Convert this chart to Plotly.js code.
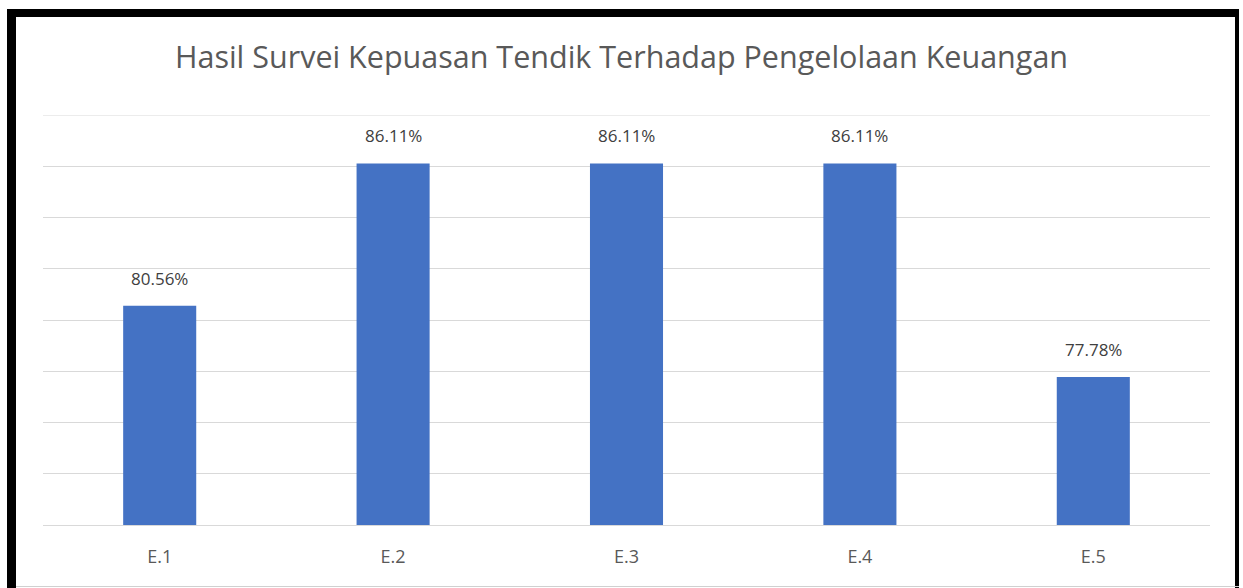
<!DOCTYPE html>
<html>
<head>
<meta charset="utf-8">
<script src="https://cdn.plot.ly/plotly-3.0.1.min.js"></script>
<style>
html,body{margin:0;padding:0;background:#fff;}
#wrap{position:relative;width:1243px;height:588px;overflow:hidden;}
#chart{position:absolute;left:0;top:0;width:1243px;height:588px;}
#frame{position:absolute;left:7px;top:9px;width:1232px;height:579px;border-left:9px solid #000;border-top:8px solid #000;border-right:4px solid #000;box-sizing:border-box;pointer-events:none;}
#bottomline{position:absolute;left:16px;top:586px;width:1223px;height:1px;background:#d0d0d0;}
</style>
</head>
<body>
<div id="wrap">
<div id="chart"></div>
<div id="frame"></div>
<div id="bottomline"></div>
</div>
<script>
const categories = ["E.1", "E.2", "E.3", "E.4", "E.5"];
const values = [80.56, 86.11, 86.11, 86.11, 77.78];
const valueLabels = ["80.56%", "86.11%", "86.11%", "86.11%", "77.78%"];
const chartTitle = "Hasil Survei Kepuasan Tendik Terhadap Pengelolaan Keuangan";
const yMin = 72, yMax = 88, yStep = 2;

const font = "'Open Sans', 'Noto Sans', sans-serif";

const annotations = categories.map((c, i) => ({
  x: c, y: values[i], xref: "x", yref: "y",
  text: valueLabels[i], showarrow: false,
  yanchor: "bottom", yshift: 14,
  font: {family: font, size: 17, color: "#404040"}
}));

Plotly.newPlot("chart", [{
  type: "bar",
  x: categories,
  y: values,
  marker: {color: "#4472C4"},
  hoverinfo: "none"
}], {
  width: 1243,
  height: 588,
  margin: {l: 43, r: 33, t: 115, b: 63},
  paper_bgcolor: "#ffffff",
  plot_bgcolor: "#ffffff",
  bargap: 0.687,
  showlegend: false,
  annotations: annotations,
  shapes: [{
    type: "line", xref: "paper", yref: "y",
    x0: 0, x1: 1, y0: yMax, y1: yMax,
    line: {color: "#d9d9d9", width: 1}, layer: "below"
  }],
  title: {
    text: chartTitle,
    x: 0.5, xanchor: "center",
    y: 63, yref: "container", yanchor: "middle",
    font: {family: font, size: 30.5, color: "#595959"}
  },
  xaxis: {
    type: "category",
    showgrid: false,
    showline: true,
    linecolor: "#d9d9d9",
    linewidth: 1,
    ticks: "",
    tickfont: {family: font, size: 18, color: "#595959"},
    ticklabelstandoff: 15
  },
  yaxis: {
    range: [yMin, yMax],
    dtick: yStep,
    tick0: yMin,
    showticklabels: false,
    showgrid: true,
    gridcolor: "#d9d9d9",
    gridwidth: 1,
    zeroline: false,
    showline: false,
    ticks: ""
  }
}, {staticPlot: true, displayModeBar: false});
</script>
</body>
</html>
